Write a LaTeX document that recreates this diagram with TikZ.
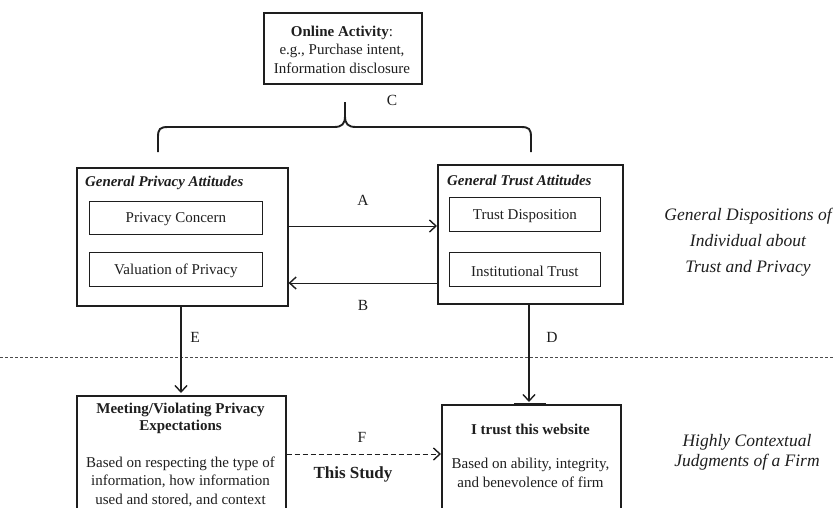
\documentclass[tikz,border=0pt]{standalone}
\usepackage{fontspec}
\setmainfont{Liberation Serif}
\usetikzlibrary{arrows.meta}
\definecolor{ink}{HTML}{1E1E1E}
\begin{document}
\begin{tikzpicture}[x=1pt,y=-1pt,
  every node/.style={text=ink},
  outer/.style={draw=ink, line width=1.6pt, anchor=north west, inner sep=0pt},
  innerbox/.style={draw=ink, line width=0.8pt, anchor=north west, inner sep=0pt,
     font=\fontsize{15}{18}\selectfont},
  txt/.style={font=\fontsize{15}{18.5}\selectfont, align=center, inner sep=0pt},
  boxtxt/.style={font=\fontsize{15}{18.5}\selectfont, inner sep=0pt, yshift=-1.5pt},
  ttl/.style={font=\fontsize{14.9}{18}\selectfont\bfseries\itshape, anchor=west, inner sep=0pt},
  side/.style={font=\fontsize{17.5}{26}\selectfont\itshape, align=center, inner sep=0pt},
  lbl/.style={font=\fontsize{15.5}{18}\selectfont, inner sep=0pt},
  tip/.style={-{Straight Barb[length=6.5pt,width=12pt,line width=1.4pt]}}
]
\useasboundingbox (0,0) rectangle (833,507);

% Online activity
\node[outer, minimum width=158pt, minimum height=71pt] (oa) at (263,12) {};
\node[txt] (oat) at (342,49.5) {\textbf{Online Activity}:\\e.g., Purchase intent,\\Information disclosure};

% brace
\coordinate (bl) at (158,152);
\coordinate (br) at (531,152);
\coordinate (bc) at (345,102);
\draw[ink, line width=1.9pt] (bl) -- (158,137) .. controls (158,129) and (160,127) .. (168,127)
  -- (334,127) .. controls (342,127) and (345,124) .. (345,116) -- (bc);
\draw[ink, line width=1.9pt] (br) -- (531,137) .. controls (531,129) and (529,127) .. (521,127)
  -- (356,127) .. controls (348,127) and (345,124) .. (345,116);
\node[lbl] (lc) at (392,100) {C};

% General privacy attitudes
\node[outer, minimum width=211pt, minimum height=138pt] (gpa) at (76,167) {};
\node[ttl] (gpat) at (85,183) {General Privacy Attitudes};
\node[innerbox, minimum width=173pt, minimum height=33pt] (pc) at (89,201) {};
\node[boxtxt] at (pc.center) {Privacy Concern};
\node[innerbox, minimum width=173pt, minimum height=34pt] (vp) at (89,252) {};
\node[boxtxt] at (vp.center) {Valuation of Privacy};

% General trust attitudes
\node[outer, minimum width=185pt, minimum height=139pt] (gta) at (437,164) {};
\node[ttl] (gtat) at (447,180) {General Trust Attitudes};
\node[innerbox, minimum width=151pt, minimum height=34pt] (td) at (449,197) {};
\node[boxtxt] at (td.center) {Trust Disposition};
\node[innerbox, minimum width=151pt, minimum height=34pt] (it) at (449,252) {};
\node[boxtxt] at (it.center) {Institutional Trust};

% side labels
\node[side] (s1) at (748,242) {General Dispositions of\\Individual about\\Trust and Privacy};
\node[side, font=\fontsize{17.5}{20}\selectfont\itshape] (s2) at (747,452) {Highly Contextual\\Judgments of a Firm};

% A and B
\coordinate (ya) at (0,226);
\coordinate (yb) at (0,283);
\draw[ink, line width=1pt, tip] (gpa.east |- ya) -- (gta.west |- ya);
\node[lbl] (la) at (363,200) {A};
\draw[ink, line width=1pt, tip] (gta.west |- yb) -- (gpa.east |- yb);
\node[lbl] (lb) at (363,305) {B};

% dashed separator
\coordinate (dl) at (0,357);
\coordinate (dr) at (833,357);
\draw[ink!80, line width=0.8pt, dash pattern=on 3pt off 2pt] (dl) -- (dr);

% bottom boxes
\node[outer, minimum width=209pt, minimum height=125pt] (mv) at (76,395) {};
\node[txt, font=\fontsize{15}{17}\selectfont\bfseries] (mvt) at (180.5,418.5) {Meeting/Violating Privacy\\Expectations};
\node[txt] (mvb) at (180.5,481.5) {Based on respecting the type of\\information, how information\\used and stored, and context};

\node[outer, minimum width=179pt, minimum height=116pt] (tw) at (441,404) {};
\node[txt, font=\fontsize{15}{18}\selectfont\bfseries] (twt) at (530.5,429) {I trust this website};
\node[txt] (twb) at (530.5,473) {Based on ability, integrity,\\and benevolence of firm};

% E and D
\draw[ink, line width=1.1pt, tip] (181,305) -- (181,393);
\node[lbl] (le) at (195,337) {E};
\draw[ink, line width=1.8pt, tip] (529,303) -- (529,402);
\node[lbl] (ld) at (552,337) {D};
\draw[ink, line width=2.6pt] (514,404.5) -- (546,404.5);

% F
\coordinate (yf) at (0,454);
\draw[ink, line width=1pt, dash pattern=on 5pt off 3pt, tip] (mv.east |- yf) -- (tw.west |- yf);
\node[lbl] (lf) at (362,437) {F};
\node[txt, font=\fontsize{17}{20}\selectfont\bfseries] (ts) at (353,474) {This Study};
\end{tikzpicture}
\end{document}
